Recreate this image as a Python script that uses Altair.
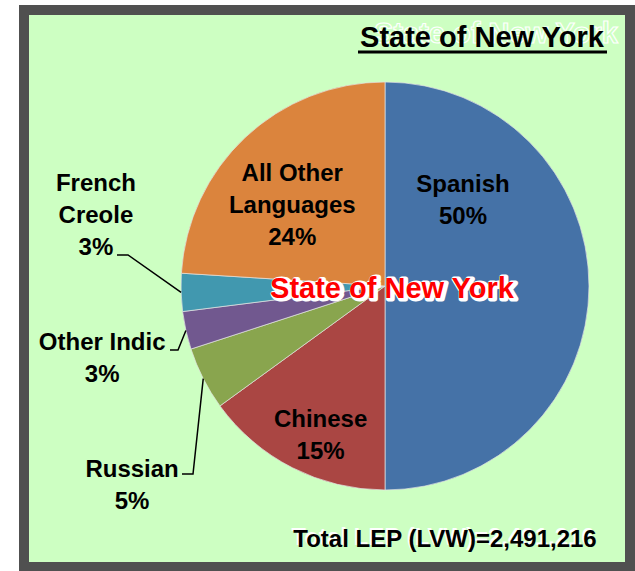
import altair as alt
import pandas as pd
import numpy as np

# ---------------- data ----------------
languages = ["Spanish", "Chinese", "Russian", "Other Indic", "French Creole", "All Other Languages"]
display_names = ["Spanish", "Chinese", "Russian", "Other Indic", "French\nCreole", "All Other\nLanguages"]
shares = [50, 15, 5, 3, 3, 24]
slice_colors = ["#4572A7", "#AA4643", "#89A54E", "#71588F", "#4198AF", "#DB843D"]
region_name = "State of New York"
total_lep = 2491216

# ---------------- layout ----------------
W, H = 606, 557
CX, CY, R = 361, 276, 204
BG = "#CDFFC2"
FRAME = "#505050"
FONT = "Liberation Sans"
LABEL_SIZE = 24

# label placement (first text line): (radius px, angle shift in degrees from slice middle)
label_layout = {
    "Spanish": (127.5, -52.3),
    "Chinese": (148.5, -1.3),
    "Russian": (313, -9.1),
    "Other Indic": (288.5, 1.2),
    "French Creole": (306.5, 21.2),
    "All Other Languages": (145.5, 3.6),
}
# leader-line stubs for outside labels: (x start, x elbow, y)
leader_stubs = {
    "French Creole": (93, 104, 245),
    "Other Indic": (146, 154, 340),
    "Russian": (158, 169, 464),
}

# ---------------- derived tables ----------------
sh = np.array(shares, dtype=float)
frac = sh / sh.sum()
end = np.cumsum(frac) * 2 * np.pi
start = end - frac * 2 * np.pi
mid = (start + end) / 2

df = pd.DataFrame({
    "language": languages,
    "share": shares,
    "start": start,
    "end": end,
    "mid": mid,
    "label": [f"{n}\n{s}%" for n, s in zip(display_names, shares)],
})
df["lab_r"] = [label_layout[l][0] for l in languages]
df["lab_theta"] = df["mid"] + np.radians([label_layout[l][1] for l in languages])

rows = []
for lang, m in zip(languages, mid):
    if lang in leader_stubs:
        x0, x1, y = leader_stubs[lang]
        ex = CX + R * np.sin(m)
        ey = CY - R * np.cos(m)
        rows += [
            {"language": lang, "seq": 0, "px": x0, "py": y},
            {"language": lang, "seq": 1, "px": x1, "py": y},
            {"language": lang, "seq": 2, "px": ex, "py": ey},
        ]
leaders = pd.DataFrame(rows)

color_scale = alt.Scale(domain=languages, range=slice_colors)

pie = alt.Chart(df).mark_arc(radius=R, stroke="#E4E4E4", strokeWidth=0.7).encode(
    theta=alt.Theta("start:Q", scale=None),
    theta2="end:Q",
    color=alt.Color("language:N", scale=color_scale, legend=None),
    x=alt.value(CX),
    y=alt.value(CY),
)

labels = alt.Chart(df).mark_text(
    font=FONT, fontSize=LABEL_SIZE, fontWeight="bold", color="black",
    lineBreak="\n", lineHeight=32, align="center", baseline="middle",
).encode(
    theta=alt.Theta("lab_theta:Q", scale=None, stack=False),
    radius=alt.Radius("lab_r:Q", scale=None),
    text="label:N",
    x=alt.value(CX),
    y=alt.value(CY),
)

leader_lines = alt.Chart(leaders).mark_line(color="black", strokeWidth=1.5).encode(
    x=alt.X("px:Q", scale=None, axis=None),
    y=alt.Y("py:Q", scale=None, axis=None),
    detail="language:N",
    order="seq:Q",
)

title_df = pd.DataFrame({"t": [region_name]})
title_ghost = alt.Chart(title_df).mark_text(
    font=FONT, fontSize=29, fontWeight="bold", fill=BG, stroke="white", strokeWidth=1.2,
    align="center", baseline="alphabetic",
).encode(text="t:N", x=alt.value(472), y=alt.value(33))
title_txt = alt.Chart(title_df).mark_text(
    font=FONT, fontSize=29, fontWeight="bold", color="black",
    align="center", baseline="alphabetic",
).encode(text="t:N", x=alt.value(458), y=alt.value(37))
title_line = alt.Chart(title_df).mark_rule(color="black", strokeWidth=3).encode(
    x=alt.value(334), x2=alt.value(583), y=alt.value(42)
)

center_outline = alt.Chart(title_df).mark_text(
    font=FONT, fontSize=29, fontWeight="bold", fill="white", stroke="white", strokeWidth=5,
    strokeJoin="round", align="center", baseline="alphabetic",
).encode(text="t:N", x=alt.value(370), y=alt.value(289))
center_txt = alt.Chart(title_df).mark_text(
    font=FONT, fontSize=29, fontWeight="bold", color="#FF0000",
    align="center", baseline="alphabetic",
).encode(text="t:N", x=alt.value(368), y=alt.value(288))

total_df = pd.DataFrame({"t": [f"Total LEP (LVW)={total_lep:,}"]})
total_shadow = alt.Chart(total_df).mark_text(
    font=FONT, fontSize=24, fontWeight="bold", color="white",
    align="center", baseline="alphabetic",
).encode(text="t:N", x=alt.value(419), y=alt.value(535))
total_txt = alt.Chart(total_df).mark_text(
    font=FONT, fontSize=24, fontWeight="bold", color="black",
    align="center", baseline="alphabetic",
).encode(text="t:N", x=alt.value(421), y=alt.value(537))

chart = alt.layer(
    pie, leader_lines, labels, title_ghost, title_txt, title_line,
    center_outline, center_txt, total_shadow, total_txt,
).properties(
    width=W, height=H,
    padding={"left": 24, "top": 10, "right": 5, "bottom": 4},
    autosize=alt.AutoSizeParams(type="none"),
    background="white",
).configure_view(
    fill=BG, stroke=FRAME, strokeWidth=10
)

chart.save("out.html", embed_options={"renderer": "svg", "actions": False})
